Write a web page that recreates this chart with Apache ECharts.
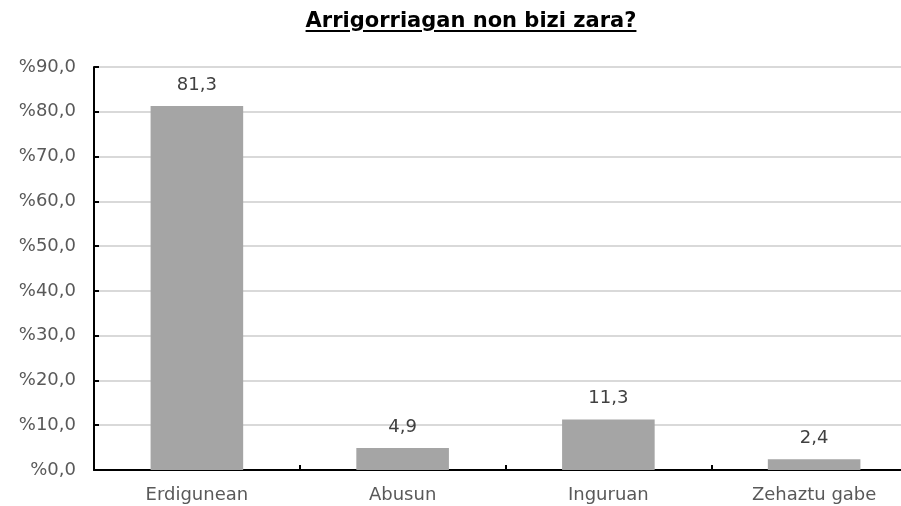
<!DOCTYPE html>
<html>
<head>
<meta charset="utf-8">
<script src="https://cdn.jsdelivr.net/npm/echarts@6/dist/echarts.min.js"></script>
<style>
  html, body { margin: 0; padding: 0; background: #fff; overflow: hidden; }
  #wrap { position: relative; width: 901px; height: 506px; overflow: hidden; }
  #chart { width: 917px; height: 506px; }
  .chart-title {
    position: absolute; left: 0; top: 8px; width: 942px; text-align: center;
    font-family: "DejaVu Sans", sans-serif; font-weight: bold; font-size: 21px; line-height: 24px;
    color: #000; text-decoration: underline; text-decoration-thickness: 2px; text-underline-offset: 3px;
  }
</style>
</head>
<body>
<div id="wrap">
  <div id="chart"></div>
  <div class="chart-title">Arrigorriagan non bizi zara?</div>
</div>
<script>
const categories = ['Erdigunean', 'Abusun', 'Inguruan', 'Zehaztu gabe']
const values = [81.3, 4.9, 11.3, 2.4]
const yTicks = [0, 10, 20, 30, 40, 50, 60, 70, 80, 90]

const fmt = v => v.toFixed(1).replace('.', ',')

const chart = echarts.init(document.getElementById('chart'))

chart.setOption({
  animation: false,
  grid: { left: 94, right: 0, top: 67, bottom: 36 },
  xAxis: {
    type: 'category',
    data: categories,
    axisLine: { lineStyle: { color: '#000', width: 2 } },
    axisTick: { show: true, inside: true, length: 5, lineStyle: { color: '#000', width: 2 } },
    axisLabel: { color: '#595959', fontFamily: 'DejaVu Sans', fontSize: 18, margin: 16 }
  },
  yAxis: {
    type: 'value',
    min: yTicks[0],
    max: yTicks[yTicks.length - 1],
    interval: 10,
    axisLine: { show: true, lineStyle: { color: '#000', width: 2 } },
    axisTick: { show: true, inside: true, length: 5, lineStyle: { color: '#000', width: 2 } },
    splitLine: { lineStyle: { color: '#d9d9d9', width: 2 } },
    axisLabel: {
      color: '#595959', fontFamily: 'DejaVu Sans', fontSize: 18, margin: 18,
      formatter: v => '%' + fmt(v)
    }
  },
  series: [{
    type: 'bar',
    data: values,
    barWidth: '45%',
    itemStyle: { color: '#a5a5a5' },
    label: {
      show: true,
      position: 'top',
      distance: 12,
      color: '#404040',
      fontFamily: 'DejaVu Sans',
      fontSize: 18,
      formatter: p => fmt(p.value)
    }
  }]
})
</script>
</body>
</html>
